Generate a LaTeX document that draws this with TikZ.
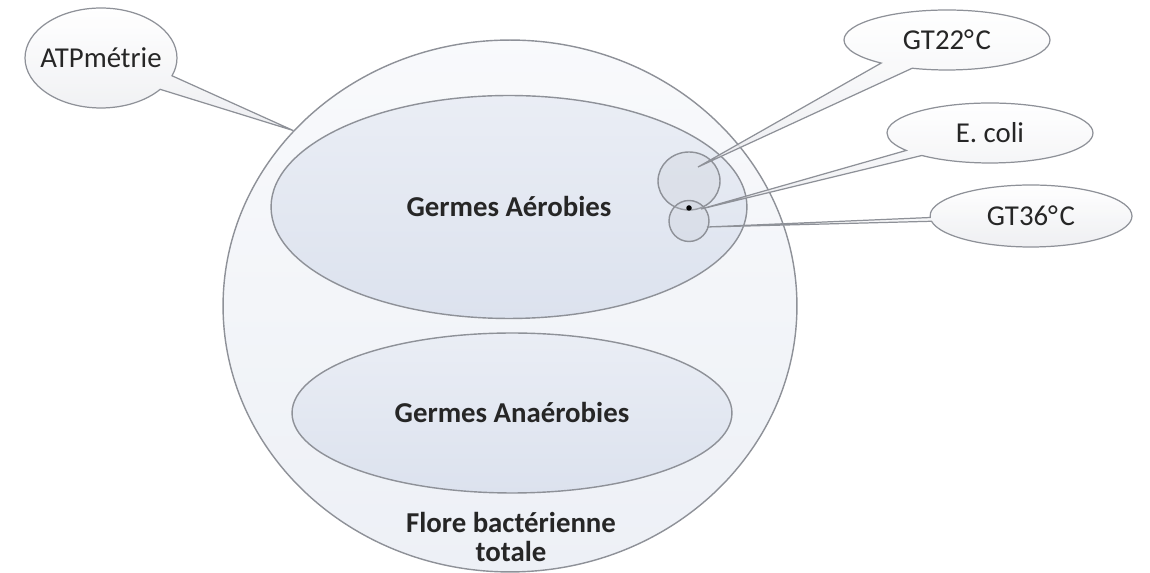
\documentclass[tikz,border=0pt]{standalone}
\usepackage{fontspec}
\setmainfont{Carlito}
\usepackage{tikz}
\usetikzlibrary{shapes.geometric,shapes.callouts}
\definecolor{rimgray}{HTML}{8E9198}
\definecolor{paleblue}{HTML}{EDF0F6}
\definecolor{setblue}{HTML}{DCE2EE}
\definecolor{bubblegray}{HTML}{E9EAEE}

\begin{document}
\begin{tikzpicture}[x=0.02cm, y=-0.02cm,
        blob/.style={ellipse, draw=rimgray, line width=0.8pt, inner sep=0pt},
        setfill/.style={top color=setblue!60!white, bottom color=setblue},
        lbl/.style={font=\fontsize{16.4}{17}\selectfont\bfseries, text=black!85},
        bubble/.style={ellipse callout, draw=rimgray, line width=0.7pt, top color=white, bottom color=bubblegray,
            fill opacity=0.8, text opacity=1, inner sep=0pt, minimum width=4.12cm, minimum height=1.2cm,
            font=\fontsize{16.4}{17}\selectfont, text=black!85}]
        \useasboundingbox (0,0) rectangle (1150,573);
        \node[blob, top color=paleblue!35!white, bottom color=paleblue, minimum width=11.48cm, minimum height=10.64cm] (flore) at (510,306) {};
        \node[blob, setfill, lbl, minimum width=9.52cm, minimum height=4.46cm] (aerob) at (509,207) {Germes Aérobies};
        \node[blob, setfill, lbl, minimum width=8.8cm, minimum height=3.2cm] (anaerob) at (512,413) {Germes Anaérobies};
        \node[lbl, align=center] (floretxt) at (511,537) {Flore bactérienne\\totale};
        \node[blob, fill=setblue!75!gray, fill opacity=0.25, minimum width=1.24cm, minimum height=1.16cm] (gt22) at (689,181) {};
        \node[blob, fill=setblue!75!gray, fill opacity=0.25, minimum width=0.8cm, minimum height=0.82cm] (gt36) at (689,221) {};
        \node[circle, fill=black, inner sep=0pt, minimum size=0.11cm] (ecoli) at (689,208) {};
        \coordinate (p22) at (698,167);
        \coordinate (pcoli) at (701,209);
        \coordinate (p36) at (707,227);
        \node[bubble, minimum width=3.04cm, minimum height=2cm, inner xsep=-8pt, callout pointer arc=18,
            callout absolute pointer={(flore.141)}] (atp) at (101,58) {ATPmétrie};
        \node[bubble, callout pointer arc=20, callout absolute pointer={(p22)}] (gt22txt) at (947,40) {GT22°\kern1pt C};
        \node[bubble, callout pointer arc=13, callout absolute pointer={(pcoli)}] (ecolitxt) at (990,133) {E. coli};
        \node[bubble, minimum width=4.04cm, minimum height=1.24cm, callout pointer arc=7,
            callout absolute pointer={(p36)}] (gt36txt) at (1031,216) {GT36°\kern1pt C};
    \end{tikzpicture}
\end{document}
